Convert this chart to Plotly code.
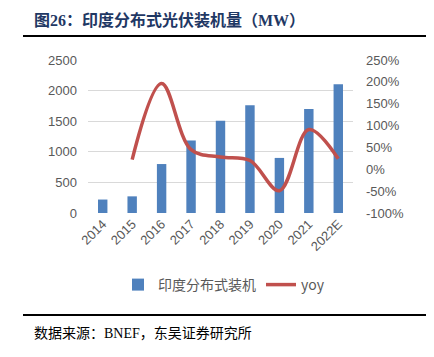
import plotly.graph_objects as go

years = ["2014", "2015", "2016", "2017", "2018", "2019", "2020", "2021", "2022E"]
installed_mw = [220, 272, 800, 1185, 1508, 1760, 900, 1700, 2105]
yoy_pct = [None, 22, 196, 45, 28, 20, -49, 91, 24]

left_ticks = [0, 500, 1000, 1500, 2000, 2500]
right_ticks = [-100, -50, 0, 50, 100, 150, 200, 250]
right_labels = ["-100%", "-50%", "0%", "50%", "100%", "150%", "200%", "250%"]

W, H = 434, 357
L, R, T, B = 88, 353, 60, 213  # plot area in px


def px_x(x):
    return (x - L) / (R - L)


def px_y(y):
    return (B - y) / (B - T)


tick_font = dict(family="Liberation Sans, Arial, sans-serif", size=13, color="#595959")

fig = go.Figure()
fig.add_trace(go.Bar(
    x=years, y=installed_mw, name="印度分布式装机",
    marker=dict(color="#4f81bd", line=dict(width=0)),
    yaxis="y",
))
fig.add_trace(go.Scatter(
    x=years, y=yoy_pct, name="yoy", mode="lines",
    line=dict(color="#c0504d", width=3.5, shape="spline", smoothing=1.0),
    connectgaps=False,
    yaxis="y2",
))

fig.update_layout(
    width=W, height=H, autosize=False,
    margin=dict(l=L, r=W - R, t=T, b=H - B, pad=0, autoexpand=False),
    paper_bgcolor="white", plot_bgcolor="white",
    bargap=0.68,
    showlegend=True,
    legend=dict(
        orientation="h", x=px_x(118), y=px_y(285), xanchor="left", yanchor="middle",
        font=dict(family="Noto Sans CJK SC, Liberation Sans, sans-serif", size=14, color="#595959"),
        itemwidth=30, traceorder="normal", bgcolor="rgba(0,0,0,0)",
    ),
    xaxis=dict(
        type="category", tickangle=-45, tickfont=tick_font,
        showgrid=False, showline=False, zeroline=False, ticks="",
    ),
    yaxis=dict(
        range=[0, 2500], tickvals=left_ticks, tickfont=tick_font,
        showgrid=True, gridcolor="#d9d9d9", gridwidth=1,
        zeroline=False, showline=False, ticks="", ticklabelstandoff=10,
    ),
    yaxis2=dict(
        range=[-100, 250], tickvals=right_ticks, ticktext=right_labels, tickfont=tick_font,
        overlaying="y", side="right", showgrid=False, zeroline=False,
        showline=False, ticks="", ticklabelstandoff=12,
    ),
    shapes=[
        dict(type="line", xref="paper", yref="paper",
             x0=px_x(23), x1=px_x(426), y0=px_y(36), y1=px_y(36),
             line=dict(color="black", width=2)),
        dict(type="line", xref="paper", yref="paper",
             x0=px_x(23), x1=px_x(426), y0=px_y(315), y1=px_y(315),
             line=dict(color="black", width=2)),
    ],
    annotations=[
        dict(text="<b>图26：印度分布式光伏装机量（MW）</b>", xref="paper", yref="paper",
             x=px_x(32), y=px_y(20), xanchor="left", yanchor="middle", showarrow=False,
             font=dict(family="Liberation Serif, Noto Sans CJK SC, serif", size=16, color="#1f3864")),
        dict(text="数据来源：BNEF，东吴证券研究所", xref="paper", yref="paper",
             x=px_x(32), y=px_y(333), xanchor="left", yanchor="middle", showarrow=False,
             font=dict(family="Liberation Serif, Noto Sans CJK SC, serif", size=14, color="#000000")),
    ],
)

fig.write_html("out.html", config={"displayModeBar": False},
               post_script="document.body.style.margin='0';")
